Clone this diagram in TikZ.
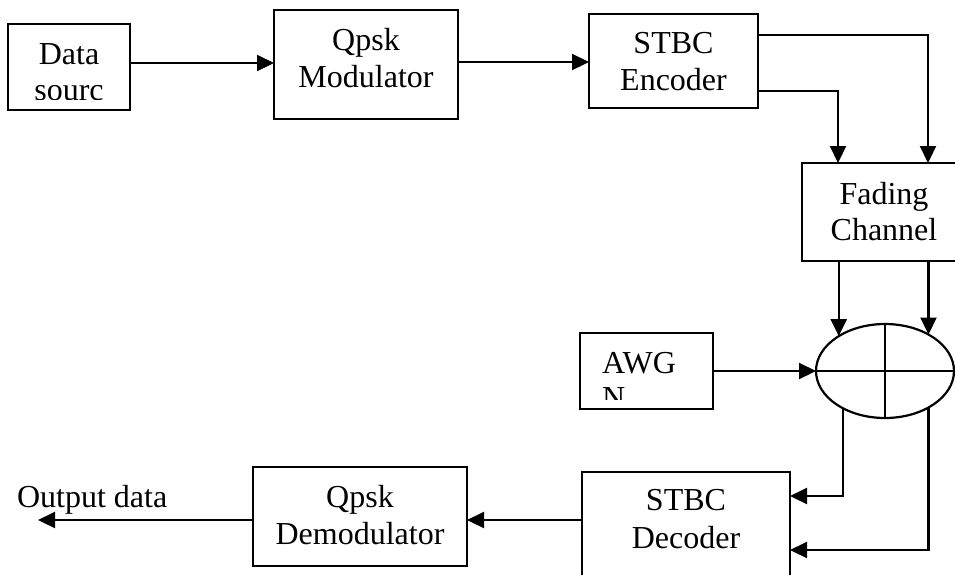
\documentclass[tikz,border=0pt]{standalone}
\usepackage{fontspec}
\setmainfont{Liberation Serif}
\usetikzlibrary{arrows.meta,shapes.geometric}
\tikzset{
  blk/.style={draw, line width=2.2pt, inner sep=0pt, outer sep=0pt},
  txt/.style={inner sep=0pt, outer sep=0pt, anchor=base, font=\fontsize{32}{37}\selectfont},
  arr/.style={line width=2.2pt, -{Triangle[length=17pt,width=16pt]}},
  wire/.style={line width=2.2pt}
}
\begin{document}
\begin{tikzpicture}[x=1pt,y=-1pt]
\useasboundingbox (0,0) rectangle (955,574);
\clip (0,0) rectangle (955,574);
% boxes
\node[blk, minimum width=122pt, minimum height=86pt] (src) at (69,67) {};
\node[blk, minimum width=184pt, minimum height=109pt] (mod) at (366,64.5) {};
\node[blk, minimum width=169pt, minimum height=94pt] (enc) at (673.5,61) {};
\node[blk, minimum width=164pt, minimum height=98pt] (fad) at (884,212) {};
\node[blk, ellipse, minimum width=138pt, minimum height=94pt] (ell) at (885,371) {};
\node[blk, minimum width=133pt, minimum height=76pt] (awgn) at (646.5,371) {};
\node[blk, minimum width=208pt, minimum height=160pt] (dec) at (686,552) {};
\node[blk, minimum width=214pt, minimum height=99pt] (dem) at (360,516.5) {};
% ellipse cross
\draw[wire] (ell.west) -- (ell.east);
\draw[wire] (ell.north) -- (ell.south);
% texts
\node[txt] (srcA) at (69,64) {Data};
\begin{scope}
\clip (src.north west) rectangle ([yshift=11pt]src.south east);
\node[txt] (srcB) at (69,100) {sourc};
\end{scope}
\node[txt] (modA) at (366,50) {Qpsk};
\node[txt] (modB) at (366,87) {Modulator};
\node[txt] (encA) at (673.5,53) {STBC};
\node[txt] (encB) at (673.5,90) {Encoder};
\node[txt] (fadA) at (884,204) {Fading};
\node[txt] (fadB) at (884,240) {Channel};
\node[txt, anchor=base west] (awA) at (602,373) {AWG};
\begin{scope}
\clip (awgn.north west) rectangle ([yshift=10pt]awgn.south east);
\node[txt, anchor=base west] (awB) at (602,408) {N};
\end{scope}
\node[txt] (decA) at (686,510) {STBC};
\node[txt] (decB) at (686,548) {Decoder};
\node[txt] (demA) at (360,507) {Qpsk};
\node[txt] (demB) at (360,544) {Demodulator};
\node[txt, anchor=base west] (outT) at (17,507) {Output data};
\coordinate (outEnd) at (38,520);
% connectors
\draw[arr] (src.east |- 0,63) -- (mod.west |- 0,63);
\draw[arr] (mod.east |- 0,62) -- (enc.west |- 0,62);
\draw[arr] (enc.east |- 0,35) -| (fad.north -| 928,0);
\draw[arr] (enc.east |- 0,91) -| (fad.north -| 838,0);
\draw[arr] (fad.south -| ell.143.8) -- (ell.143.8);
\draw[arr] (fad.south -| ell.40.6) -- (ell.40.6);
\draw[arr] (awgn.east) -- (ell.west);
\draw[arr] (ell.222.7) |- (dec.east |- 0,496);
\draw[arr] (ell.320.6) |- (dec.east |- 0,550);
\draw[arr] (dec.west |- 0,520) -- (dem.east |- 0,520);
\draw[arr] (dem.west |- 0,520) -- (outEnd);
\end{tikzpicture}
\end{document}
